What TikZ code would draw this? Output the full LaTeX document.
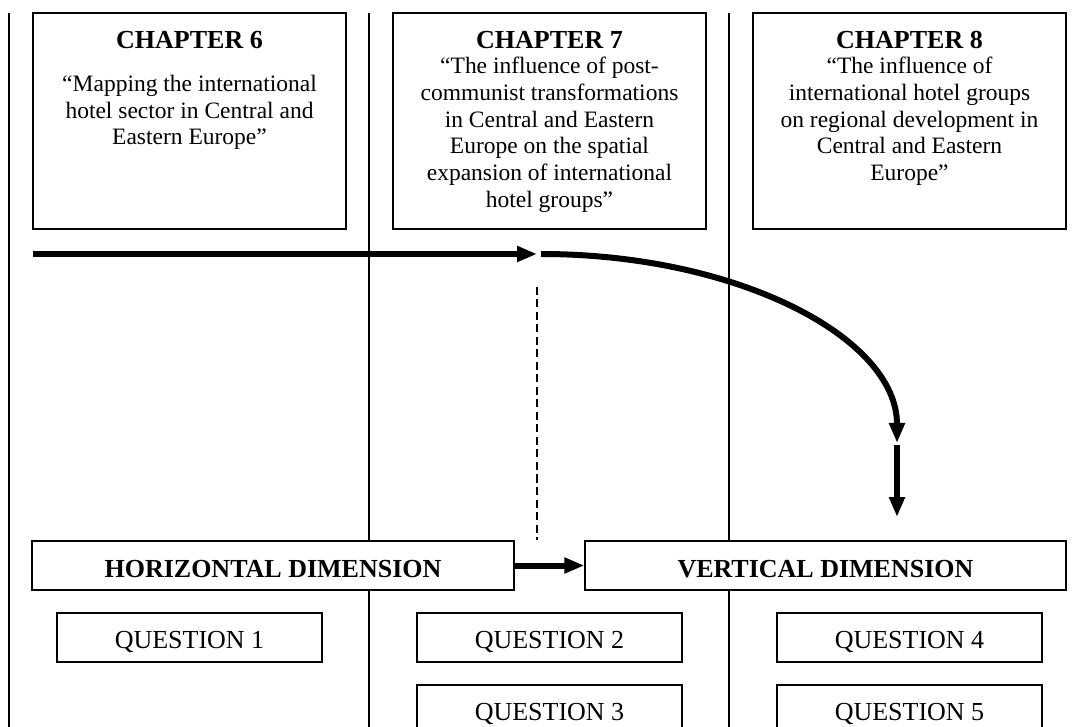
\documentclass[tikz,border=0pt]{standalone}
\usepackage{fontspec}
\setmainfont{Liberation Serif}
\usetikzlibrary{arrows.meta}
\begin{document}
\begin{tikzpicture}[x=1pt,y=-1pt,
  chbox/.style={draw, line width=1.3pt, inner sep=0pt, minimum width=313pt, minimum height=216pt},
  dimbox/.style={draw, line width=1.3pt, inner sep=0pt, minimum width=481pt, minimum height=49pt},
  qbox/.style={draw, line width=1.3pt, inner sep=0pt, minimum width=265pt, minimum height=49pt},
  ttl/.style={font=\fontsize{26}{30}\selectfont\bfseries, inner sep=0pt, anchor=base},
  body/.style={font=\fontsize{23.5}{26.7}\selectfont, align=center, inner sep=0pt, anchor=north},
  qtxt/.style={font=\fontsize{26}{30}\selectfont, inner sep=0pt, anchor=base},
  divider/.style={line width=1.2pt},
  bigarrow/.style={line width=6pt, -{Triangle[length=20pt,width=15pt]}},
  guide/.style={line width=1.2pt, dash pattern=on 8pt off 4.5pt}
]
\useasboundingbox (0,0) rectangle (1080,727);
\clip (0,0) rectangle (1080,727);

% column dividers
\coordinate (d1t) at (9,13);   \coordinate (d1b) at (9,740);
\coordinate (d2t) at (369,13); \coordinate (d2b) at (369,740);
\coordinate (d3t) at (729,13); \coordinate (d3b) at (729,740);
\draw[divider] (d1t) -- (d1b);
\draw[divider] (d2t) -- (d2b);
\draw[divider] (d3t) -- (d3b);

% chapter boxes
\node[chbox, fill=white] (ch6) at (189.5,121) {};
\node[chbox, fill=white] (ch7) at (549.5,121) {};
\node[chbox, fill=white] (ch8) at (909.5,121) {};

\node[ttl] (t6) at (189.5,49) {CHAPTER 6};
\node[ttl] (t7) at (549.5,49) {CHAPTER 7};
\node[ttl] (t8) at (909.5,49) {CHAPTER 8};

\node[body] (b6) at (189.5,75) {“Mapping the international\\hotel sector in Central and\\Eastern Europe”};
\node[body] (b7) at (549.5,57) {“The influence of post-\\communist transformations\\in Central and Eastern\\Europe on the spatial\\expansion of international\\hotel groups”};
\node[body] (b8) at (909.5,57) {“The influence of\\international hotel groups\\on regional development in\\Central and Eastern\\Europe”};

% dimension boxes
\node[dimbox, fill=white, minimum width=482pt] (hd) at (273,565.5) {};
\node[dimbox, fill=white] (vd) at (825.5,565.5) {};
\node[ttl] (hdl) at ([yshift=-11.5pt]hd.center) {HORIZONTAL DIMENSION};
\node[ttl] (vdl) at ([yshift=-11.5pt]vd.center) {VERTICAL DIMENSION};

% question boxes
\node[qbox, fill=white] (q1) at (189.5,637.5) {};
\node[qbox, fill=white] (q2) at (549.5,637.5) {};
\node[qbox, fill=white] (q3) at (549.5,709.5) {};
\node[qbox, fill=white] (q4) at (909.5,637.5) {};
\node[qbox, fill=white] (q5) at (909.5,709.5) {};
\node[qtxt] at ([yshift=-10.5pt]q1.center) {QUESTION 1};
\node[qtxt] at ([yshift=-10.5pt]q2.center) {QUESTION 2};
\node[qtxt] at ([yshift=-10.5pt]q3.center) {QUESTION 3};
\node[qtxt] at ([yshift=-10.5pt]q4.center) {QUESTION 4};
\node[qtxt] at ([yshift=-10.5pt]q5.center) {QUESTION 5};

% arrows
\coordinate (a1) at (33,254);
\coordinate (a2) at (537,254);
\coordinate (c1) at (541,254);
\coordinate (c2) at (897,443);
\coordinate (v1) at (897,445);
\coordinate (v2) at (897,517);
\coordinate (dtop) at (537,287);

\draw[bigarrow] (a1) -- (a2);
\draw[bigarrow] (c1) .. controls (738,254) and (897,338) .. (c2);
\draw[bigarrow] (v1) -- (v2);
\draw[guide] (dtop) -- (dtop |- hd.north);
\draw[bigarrow] (hd.east) -- (vd.west);
\end{tikzpicture}
\end{document}
